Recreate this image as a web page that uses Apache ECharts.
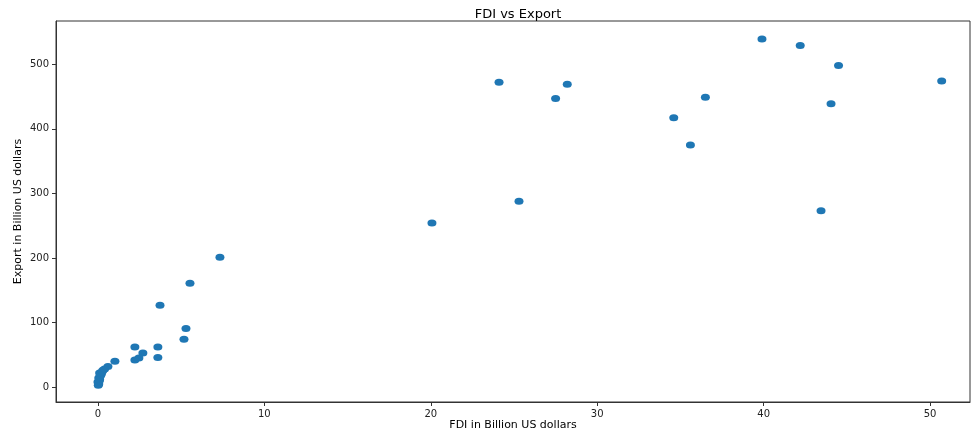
<!DOCTYPE html>
<html>
<head>
<meta charset="utf-8">
<script src="https://cdn.jsdelivr.net/npm/echarts@6/dist/echarts.min.js"></script>
<style>html,body{margin:0;padding:0;background:#fff}#c{width:971px;height:432px}</style>
</head>
<body>
<div id="c"></div>
<script>
const fdi = [24.1, 27.5, 28.2, 25.3, 20.07, 39.9, 42.2, 44.5, 50.7, 36.5, 34.6, 35.6, 44.05, 43.45,
  7.33, 5.53, 3.73, 5.29, 5.17, 2.22, 3.6, 3.6, 2.7, 2.46, 2.22, 1.02, 0.6,
  0.02, 0.05, 0.0, 0.08, 0.1, 0.05, 0.12, 0.15, 0.2, 0.1, 0.25, 0.3, 0.4];
const exportVals = [472, 447, 469, 288, 254, 539, 529, 498, 474, 449, 417, 375, 439, 273,
  201, 161, 127, 91, 74, 62, 62, 46, 53, 45, 42, 40, 32,
  3, 5, 8, 10, 12, 14, 16, 18, 20, 22, 24, 26, 28];
const xTicks = [0, 10, 20, 30, 40, 50];
const yTicks = [0, 100, 200, 300, 400, 500];

const points = fdi.map((x, i) => [x, exportVals[i]]);
const font = 'DejaVu Sans';
const chart = echarts.init(document.getElementById('c'));
chart.setOption({
  animation: false,
  title: {
    text: 'FDI vs Export', left: 513, top: 3, textAlign: 'center',
    textStyle: { fontFamily: font, fontSize: 13, fontWeight: 'normal', color: '#000' }
  },
  grid: { left: 56, right: 1, top: 21, bottom: 30, show: true, borderColor: '#333', borderWidth: 1,
    containLabel: false, outerBoundsMode: 'none' },
  xAxis: {
    type: 'value', min: -2.52, max: 52.4,
    name: 'FDI in Billion US dollars', nameLocation: 'middle', nameGap: 18, nameMoveOverlap: false,
    nameTextStyle: { fontFamily: font, fontSize: 11, color: '#000' },
    splitLine: { show: false },
    axisLine: { show: true, onZero: false, lineStyle: { color: '#333' } },
    axisTick: { show: true, customValues: xTicks, length: 4, lineStyle: { color: '#333' } },
    axisLabel: { customValues: xTicks, fontFamily: font, fontSize: 10, color: '#222', margin: 7 }
  },
  yAxis: {
    type: 'value', min: -23, max: 567,
    name: 'Export in Billion US dollars', nameLocation: 'middle', nameGap: 32, nameRotate: 90, nameMoveOverlap: false,
    nameTextStyle: { fontFamily: font, fontSize: 11, color: '#000' },
    splitLine: { show: false },
    axisLine: { show: true, onZero: false, lineStyle: { color: '#333' } },
    axisTick: { show: true, customValues: yTicks, length: 4, lineStyle: { color: '#333' } },
    axisLabel: { customValues: yTicks, fontFamily: font, fontSize: 10, color: '#222', margin: 7 }
  },
  series: [{
    type: 'scatter', data: points, symbol: 'circle', symbolSize: [9, 7],
    itemStyle: { color: '#1f77b4', opacity: 1 }
  }]
});
</script>
</body>
</html>
